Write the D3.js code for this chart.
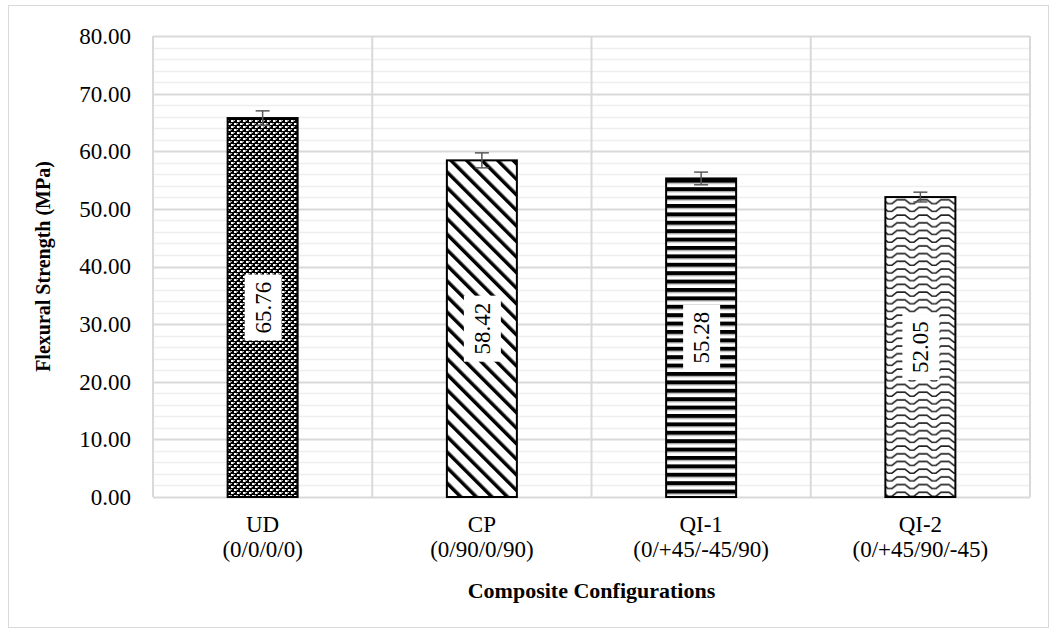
<!DOCTYPE html>
<html>
<head>
<meta charset="utf-8">
<script src="https://cdn.jsdelivr.net/npm/d3@7"></script>
<style>
  body { margin: 0; background: #fff; }
  svg text { font-family: "Liberation Serif", "Times New Roman", serif; fill: #000; }
</style>
</head>
<body>
<svg id="chart" width="1057" height="633"></svg>
<script>
const categories = ["UD", "CP", "QI-1", "QI-2"];
const layups = ["(0/0/0/0)", "(0/90/0/90)", "(0/+45/-45/90)", "(0/+45/90/-45)"];
const strength = [65.76, 58.42, 55.28, 52.05];
const errors = [1.25, 1.3, 1.1, 0.85];
const yTicks = [0, 10, 20, 30, 40, 50, 60, 70, 80];

const svg = d3.select("#chart");
const margin = { top: 36, right: 27, bottom: 136, left: 153 };
const width = 1057, height = 633;
const chartWidth = width - margin.left - margin.right;
const chartHeight = height - margin.top - margin.bottom;

// outer frame
svg.append("rect")
  .attr("x", 8.5).attr("y", 5.5)
  .attr("width", 1040).attr("height", 622)
  .attr("fill", "#fff").attr("stroke", "#d9d9d9");

// patterns
const defs = svg.append("defs");

// UD: dense dotted weave
let p = defs.append("pattern").attr("id", "pat-ud")
  .attr("patternUnits", "userSpaceOnUse").attr("width", 6).attr("height", 6);
p.append("rect").attr("width", 6).attr("height", 6).attr("fill", "#000");
p.append("rect").attr("x", 0).attr("y", 0).attr("width", 2).attr("height", 2).attr("fill", "#fff");
p.append("rect").attr("x", 3).attr("y", 3).attr("width", 2).attr("height", 2).attr("fill", "#fff");
p.append("rect").attr("x", 2).attr("y", 0).attr("width", 1).attr("height", 2).attr("fill", "#999");
p.append("rect").attr("x", 5).attr("y", 3).attr("width", 1).attr("height", 2).attr("fill", "#999");
p.append("rect").attr("x", 0).attr("y", 3).attr("width", 1).attr("height", 1).attr("fill", "#bbb");
p.append("rect").attr("x", 3).attr("y", 0).attr("width", 1).attr("height", 1).attr("fill", "#bbb");

// CP: wide diagonal stripes
p = defs.append("pattern").attr("id", "pat-cp")
  .attr("patternUnits", "userSpaceOnUse").attr("width", 11).attr("height", 11)
  .attr("patternTransform", "rotate(-45)");
p.append("rect").attr("width", 11).attr("height", 11).attr("fill", "#fff");
p.append("rect").attr("x", 0).attr("y", 0).attr("width", 3.5).attr("height", 11).attr("fill", "#000");

// QI-1: horizontal stripes
p = defs.append("pattern").attr("id", "pat-qi1")
  .attr("patternUnits", "userSpaceOnUse").attr("width", 8).attr("height", 8.4);
p.append("rect").attr("width", 8).attr("height", 8.4).attr("fill", "#fff");
p.append("rect").attr("y", 0).attr("width", 8).attr("height", 4).attr("fill", "#000");
p.append("rect").attr("y", 4).attr("width", 8).attr("height", 1).attr("fill", "#999");

// QI-2: zigzag waves
p = defs.append("pattern").attr("id", "pat-qi2")
  .attr("patternUnits", "userSpaceOnUse").attr("width", 22).attr("height", 7.7);
p.append("rect").attr("width", 22).attr("height", 7.7).attr("fill", "#fff");
p.append("path").attr("d", "M-2,2 L4,2 L9,6 L13,6 L18,2 L24,2")
  .attr("fill", "none").attr("stroke", "#222").attr("stroke-width", 1.6);

const patIds = ["pat-ud", "pat-cp", "pat-qi1", "pat-qi2"];

const chartArea = svg.append("g")
  .attr("transform", `translate(${margin.left},${margin.top})`);

const xScale = d3.scaleBand().domain(categories).range([0, chartWidth]).paddingInner(0).paddingOuter(0);
const yScale = d3.scaleLinear().domain([0, 80]).range([chartHeight, 0]);

// minor gridlines
const minor = d3.range(0, 81, 2).filter(v => v % 10 !== 0);
chartArea.append("g").selectAll("line").data(minor).join("line")
  .attr("x1", 0).attr("x2", chartWidth)
  .attr("y1", d => Math.round(yScale(d)) + 0.5).attr("y2", d => Math.round(yScale(d)) + 0.5)
  .attr("stroke", "#eeeeee").attr("stroke-width", 1.5);

// major gridlines
chartArea.append("g").selectAll("line").data(yTicks).join("line")
  .attr("x1", 0).attr("x2", chartWidth)
  .attr("y1", d => Math.round(yScale(d)) + 0.5).attr("y2", d => Math.round(yScale(d)) + 0.5)
  .attr("stroke", "#d9d9d9").attr("stroke-width", 2);

// vertical category gridlines
const bounds = categories.map(c => xScale(c)).concat([chartWidth]);
chartArea.append("g").selectAll("line").data(bounds).join("line")
  .attr("x1", d => d).attr("x2", d => d)
  .attr("y1", 0).attr("y2", chartHeight)
  .attr("stroke", "#d9d9d9").attr("stroke-width", 2);

// y axis tick labels
const yAxis = d3.axisLeft(yScale).tickValues(yTicks).tickSize(0).tickPadding(22)
  .tickFormat(d3.format(".2f"));
chartArea.append("g").call(yAxis)
  .call(g => g.select(".domain").remove())
  .call(g => g.selectAll("text")
    .style("font-family", '"Liberation Serif", serif')
    .style("font-size", "23px").attr("fill", "#000"));

// bars
const barW = 70;
const cx = c => xScale(c) + xScale.bandwidth() / 2;
chartArea.append("g").selectAll("rect").data(categories).join("rect")
  .attr("x", d => cx(d) - barW / 2)
  .attr("y", (d, i) => yScale(strength[i]))
  .attr("width", barW)
  .attr("height", (d, i) => chartHeight - yScale(strength[i]))
  .attr("fill", (d, i) => `url(#${patIds[i]})`)
  .attr("stroke", "#000").attr("stroke-width", 2);

// error bars
const eb = chartArea.append("g").attr("stroke", "#595959").attr("stroke-width", 1.5);
categories.forEach((c, i) => {
  const x = cx(c);
  const y1 = yScale(strength[i] + errors[i]);
  const y2 = yScale(strength[i] - errors[i]);
  eb.append("line").attr("x1", x).attr("x2", x).attr("y1", y1).attr("y2", y2);
  eb.append("line").attr("x1", x - 7).attr("x2", x + 7).attr("y1", y1).attr("y2", y1);
  eb.append("line").attr("x1", x - 7).attr("x2", x + 7).attr("y1", y2).attr("y2", y2);
});

// data labels
categories.forEach((c, i) => {
  const x = cx(c);
  const y = yScale(strength[i] / 2);
  const g = chartArea.append("g").attr("transform", `translate(${x},${y}) rotate(-90)`);
  g.append("rect").attr("x", -33).attr("y", -18).attr("width", 66).attr("height", 37).attr("fill", "#fff");
  g.append("text").attr("text-anchor", "middle").attr("dy", "0.35em")
    .style("font-size", "23px").text(strength[i].toFixed(2));
});

// x category labels
const xl = chartArea.append("g");
categories.forEach((c, i) => {
  xl.append("text").attr("x", cx(c)).attr("y", chartHeight + 35)
    .attr("text-anchor", "middle").style("font-size", "23px").text(c);
  xl.append("text").attr("x", cx(c)).attr("y", chartHeight + 60)
    .attr("text-anchor", "middle").style("font-size", "23px").text(layups[i]);
});

// axis titles
svg.append("text")
  .attr("x", margin.left + chartWidth / 2).attr("y", 598)
  .attr("text-anchor", "middle")
  .style("font-weight", "bold").style("font-size", "22px")
  .text("Composite Configurations");

svg.append("text")
  .attr("transform", "rotate(-90)")
  .attr("x", -(margin.top + chartHeight / 2)).attr("y", 50)
  .attr("text-anchor", "middle")
  .style("font-weight", "bold").style("font-size", "20px")
  .text("Flexural Strength (MPa)");
</script>
</body>
</html>
